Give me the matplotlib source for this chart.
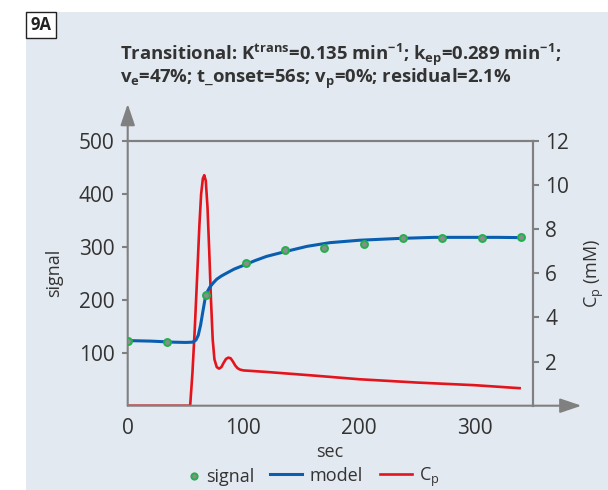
import matplotlib
matplotlib.use("Agg")
import matplotlib.pyplot as plt
from matplotlib.patches import Rectangle
from matplotlib.lines import Line2D

plt.rcParams['font.family'] = ['Open Sans', 'DejaVu Sans']
plt.rcParams['mathtext.fontset'] = 'custom'
plt.rcParams['mathtext.rm'] = 'Open Sans'
plt.rcParams['mathtext.bf'] = 'Open Sans:bold'

# measured signal points
sig_t = [0, 34, 68, 102, 136, 170, 204, 238, 272, 306, 340]
sig_y = [123, 120.5, 210, 270, 293.5, 298, 305, 316, 317.5, 317, 319]

# fitted model (left axis)
model_t = [0, 20, 40, 50, 56, 59, 61, 63, 65, 67, 69, 71, 74, 77, 81, 86, 92, 100,
           110, 120, 136, 155, 175, 200, 235, 265, 295, 320, 340]
model_y = [123, 122, 120, 119.5, 120, 124, 133, 152, 178, 203, 216, 224, 232, 239, 245,
           251, 258, 265, 274, 282, 291, 301, 308, 312.5, 316, 318, 318, 318, 317.5]

# plasma concentration Cp (right axis, mM)
cp_t = [0, 54, 56, 58, 60, 62, 63.5, 65, 66.2, 67.5, 69, 70.5, 72, 73.5, 75, 77, 79,
        81, 83, 85, 87, 89, 91, 93, 95, 97, 100, 120, 160, 200, 250, 300, 340]
cp_y = [0, 0, 1.5, 3.5, 5.8, 8.2, 9.6, 10.3, 10.45, 10.2, 9.0, 7.0, 4.8, 3.0, 2.1, 1.75,
        1.68, 1.75, 1.95, 2.12, 2.18, 2.15, 2.0, 1.82, 1.7, 1.64, 1.6, 1.53, 1.37, 1.2,
        1.05, 0.93, 0.79]

bg = '#e3e9f0'
grey = '#808080'
txt = '#333333'
blue = '#0a5eb0'
red = '#e3141c'
green = '#1fb24a'

W, H = 608, 490
fig = plt.figure(figsize=(W / 100, H / 100), dpi=100)
fig.patch.set_facecolor('white')
fig.patches.append(Rectangle((26 / W, 0), 1, 1 - 12 / H, transform=fig.transFigure,
                             facecolor=bg, edgecolor='none', zorder=-10))
fig.patches.append(Rectangle((26 / W, 1 - 38 / H), 30 / W, 26 / H, transform=fig.transFigure,
                             facecolor='white', edgecolor='#222222', lw=1.0, zorder=5))
fig.text(41 / W, 1 - 25 / H, '9A', ha='center', va='center', fontsize=12,
         fontweight='bold', color='#222222', zorder=6)

l, r, b, t = 127.7, 532.5, 405.7, 141
ax = fig.add_axes([l / W, 1 - b / H, (r - l) / W, (b - t) / H])
ax.set_facecolor(bg)

# red Cp on base axes (right ticks), signal/model on twin (left ticks)
ax.plot(cp_t, cp_y, color=red, lw=1.9, solid_capstyle='butt')
ax.set_ylim(0, 12)
ax.set_xlim(0, 350)

ax2 = ax.twinx()
ax2.patch.set_visible(False)
ax2.plot(model_t, model_y, color=blue, lw=2.2)
ax2.plot(sig_t, sig_y, 'o', ms=5, mfc='#8c8c8c', mec=green, mew=1.4, zorder=5)
ax2.set_ylim(0, 500)
ax2.yaxis.tick_left()
ax2.yaxis.set_label_position('left')
ax2.set_yticks([100, 200, 300, 400, 500])
ax2.set_ylabel('signal', fontsize=13, color=txt, labelpad=11)

ax.yaxis.tick_right()
ax.yaxis.set_label_position('right')
ax.set_yticks([2, 4, 6, 8, 10, 12])
ax.set_ylabel('C$_\\mathregular{p}$ (mM)', fontsize=13, color=txt, labelpad=10)

ax.set_xticks([0, 100, 200, 300])
ax.set_xlabel('sec', fontsize=13, color=txt, labelpad=3)

for a in (ax, ax2):
    for s in a.spines.values():
        s.set_color(grey)
        s.set_linewidth(1.5)
    a.spines['left'].set_visible(False)
    a.spines['bottom'].set_visible(False)
ax.tick_params(axis='y', length=4, width=1.5, color=grey, labelsize=15, labelcolor=txt, pad=5)
ax2.tick_params(axis='y', length=4.5, width=1.5, color=grey, labelsize=15, labelcolor=txt, pad=5)
ax.tick_params(axis='x', length=0, labelsize=15, labelcolor=txt, pad=9)

# axis lines with arrow heads
arrow = dict(arrowstyle='-|>,head_length=0.65,head_width=0.22', color=grey, lw=1.5,
             mutation_scale=20, shrinkA=0, shrinkB=0)
ax2.annotate('', xy=(0, 1.14), xytext=(0, 0), xycoords='axes fraction',
             arrowprops=arrow, annotation_clip=False)
ax2.annotate('', xy=(1.121, 0), xytext=(0, 0), xycoords='axes fraction',
             arrowprops=arrow, annotation_clip=False)

fig.text(120 / W, 1 - 60 / H,
         'Transitional: K$^{\\mathbf{trans}}$=0.135 min$^{\\mathbf{-1}}$; '
         'k$_{\\mathbf{ep}}$=0.289 min$^{\\mathbf{-1}}$;',
         fontsize=13.3, fontweight='bold', color=txt, va='baseline')
fig.text(120 / W, 1 - 83 / H,
         'v$_{\\mathbf{e}}$=47%; t_onset=56s; v$_{\\mathbf{p}}$=0%; residual=2.1%',
         fontsize=13.3, fontweight='bold', color=txt, va='baseline')

# legend: marker entry kept tight, line entries separately
sig_handle = Line2D([], [], ls='none', marker='o', ms=4.5, mfc='#8c8c8c', mec=green, mew=1.4)
fig.legend([sig_handle], ['signal'], loc='center',
           bbox_to_anchor=(222 / W, 1 - 477 / H), frameon=False, fontsize=13,
           handlelength=0.5, handletextpad=0.4, labelcolor=txt)
line_handles = [Line2D([], [], color=blue, lw=2.2), Line2D([], [], color=red, lw=1.9)]
fig.legend(line_handles, ['model', 'C$_\\mathregular{p}$'], loc='center',
           bbox_to_anchor=(355 / W, 1 - 477 / H), ncol=2, frameon=False, fontsize=13,
           handlelength=1.75, handletextpad=0.4, columnspacing=1.0, labelcolor=txt)

fig.savefig('out.png', dpi=100, facecolor=fig.get_facecolor())
